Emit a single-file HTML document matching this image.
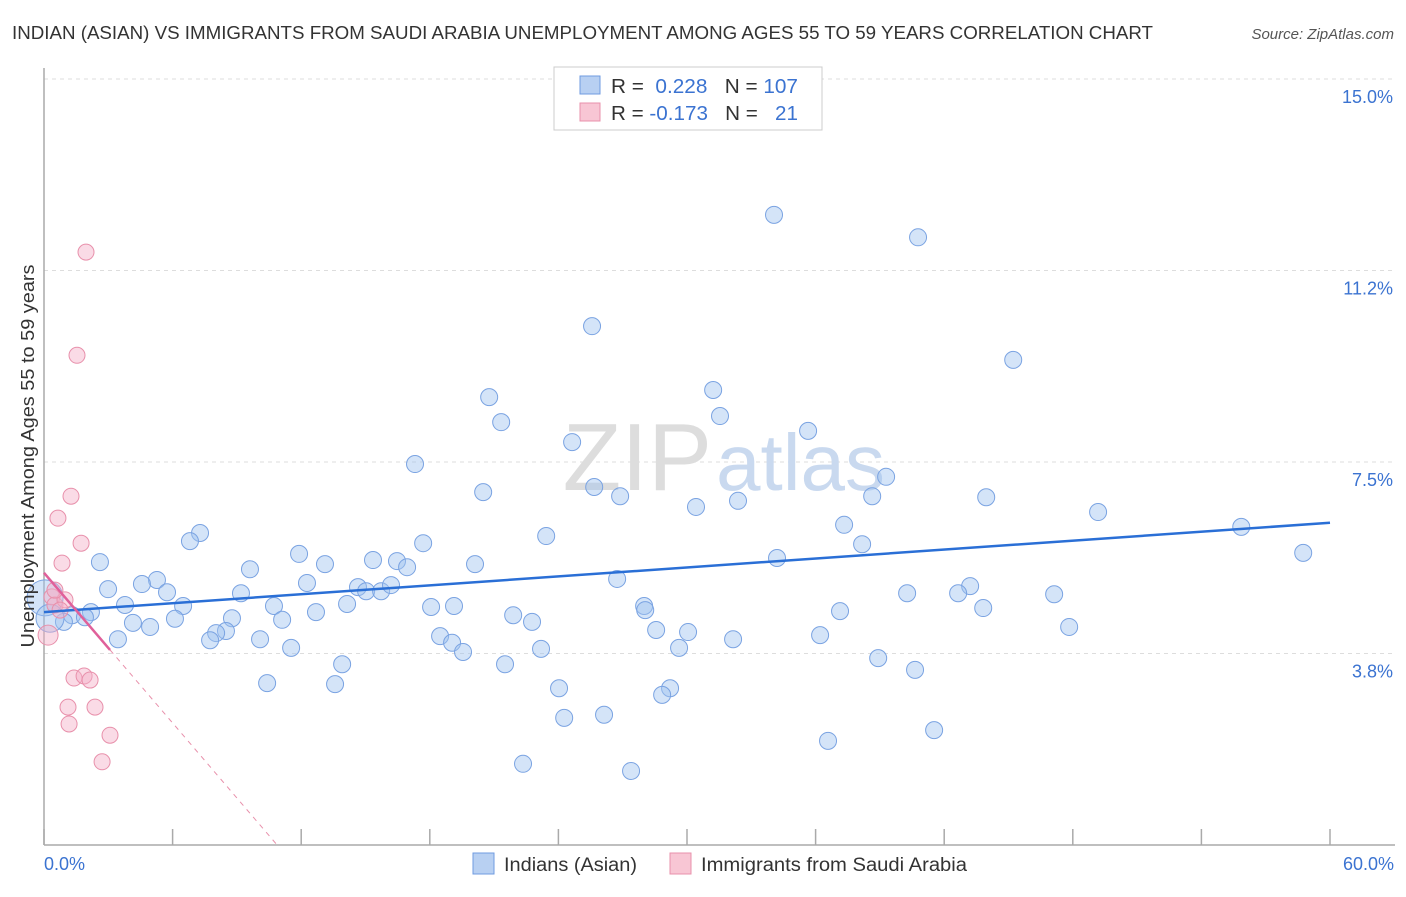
<!DOCTYPE html>
<html><head><meta charset="utf-8"><style>
body{margin:0;background:#fff;font-family:"Liberation Sans",sans-serif;}
svg text{font-family:"Liberation Sans",sans-serif;}
</style></head><body>
<svg id="chart" width="1406" height="892" viewBox="0 0 1406 892">
<text x="12" y="39" font-size="18" fill="#333" textLength="1141" lengthAdjust="spacingAndGlyphs">INDIAN (ASIAN) VS IMMIGRANTS FROM SAUDI ARABIA UNEMPLOYMENT AMONG AGES 55 TO 59 YEARS CORRELATION CHART</text>
<text x="1394" y="39" font-size="15" fill="#555" font-style="italic" text-anchor="end">Source: ZipAtlas.com</text>
<g id="grid"></g>
<text x="712" y="490" font-size="96" fill="#ddd" text-anchor="end" font-family="Liberation Serif">ZIP</text>
<text x="716" y="490" font-size="80" fill="#c9d9ef">atlas</text>
<g id="pts"></g>
<g id="lines"></g>
<text transform="translate(34,456) rotate(-90)" font-size="18" fill="#333" text-anchor="middle" textLength="383" lengthAdjust="spacingAndGlyphs">Unemployment Among Ages 55 to 59 years</text>
<text x="44" y="870" font-size="18" fill="#3b73d1">0.0%</text>
<text x="1394" y="870" font-size="18" fill="#3b73d1" text-anchor="end">60.0%</text>
<g>
<rect x="554" y="67" width="268" height="63" fill="#fff" stroke="#ccc"/>
<rect x="580" y="76" width="20" height="18" fill="#b8d0f2" stroke="#6f9be0"/>
<rect x="580" y="103" width="20" height="18" fill="#f8c6d4" stroke="#e890ab"/>
<text x="611" y="93" font-size="20" fill="#333" textLength="187" lengthAdjust="spacingAndGlyphs">R = <tspan fill="#3b73d1">&#160;0.228</tspan>&#160;&#160;&#160;N = <tspan fill="#3b73d1">107</tspan></text>
<text x="611" y="120" font-size="20" fill="#333" textLength="187" lengthAdjust="spacingAndGlyphs">R = <tspan fill="#3b73d1">-0.173</tspan>&#160;&#160;&#160;N = <tspan fill="#3b73d1">&#160;&#160;21</tspan></text>
</g>
<g>
<rect x="473" y="853" width="21" height="21" fill="#b8d0f2" stroke="#6f9be0"/>
<text x="504" y="871" font-size="19" fill="#333" textLength="133" lengthAdjust="spacingAndGlyphs">Indians (Asian)</text>
<rect x="670" y="853" width="21" height="21" fill="#f8c6d4" stroke="#e890ab"/>
<text x="701" y="871" font-size="19" fill="#333" textLength="266" lengthAdjust="spacingAndGlyphs">Immigrants from Saudi Arabia</text>
</g>
</svg>
<script>
const yTicks=[3.75,7.5,11.25,15];
const yTickLabels=["3.8%","7.5%","11.2%","15.0%"];
const xTicks=[0,6,12,18,24,30,36,42,48,54,60];
const blueX=[34.06,40.78,25.57,45.22,31.22,20.77,31.54,21.33,35.65,24.64,17.31,20.49,25.67,26.88,39.29,38.64,32.38,30.42,43.96,49.18,55.86,58.75,37.33,38.17,23.43,7.28,6.81,2.61,9.61,11.90,13.11,15.35,16.47,16.94,17.69,20.11,34.20,26.74,5.27,4.57,2.99,5.74,9.19,12.27,14.65,15.03,15.73,16.19,43.21,42.65,40.27,47.13,3.78,6.49,10.73,14.14,18.06,19.13,28.0,28.05,37.14,43.82,21.89,22.77,12.69,11.11,8.77,6.11,4.15,2.19,1.31,1.91,0.93,4.95,8.49,8.03,7.75,3.45,10.08,18.48,19.04,19.55,23.19,28.56,30.05,29.63,32.15,36.21,47.83,11.53,13.91,21.51,38.92,40.64,10.41,13.58,24.03,29.21,28.84,24.27,26.13,41.53,36.58,22.35,27.39,0.05,0.28];
const blueY=[12.34,11.90,10.16,9.50,8.91,8.77,8.40,8.28,8.11,7.89,7.46,6.91,7.01,6.83,7.21,6.83,6.74,6.62,6.81,6.52,6.23,5.72,6.27,5.89,6.05,6.11,5.95,5.54,5.40,5.70,5.50,5.58,5.56,5.44,5.91,5.50,5.62,5.21,5.19,5.11,5.01,4.95,4.93,5.13,5.05,4.97,4.97,5.09,5.07,4.93,4.93,4.91,4.70,4.68,4.68,4.72,4.66,4.68,4.68,4.60,4.58,4.64,4.50,4.37,4.56,4.41,4.44,4.43,4.35,4.56,4.50,4.46,4.37,4.27,4.19,4.15,4.01,4.03,4.03,4.09,3.96,3.78,3.84,4.21,4.17,3.86,4.03,4.11,4.27,3.86,3.54,3.54,3.66,3.43,3.17,3.15,3.07,3.07,2.94,2.49,2.55,2.25,2.04,1.59,1.45,4.84,4.44];
const pinkX=[1.96,1.54,1.26,0.65,1.73,0.84,0.37,0.51,0.98,0.75,0.19,1.40,1.87,2.15,1.12,2.38,1.17,3.08,2.71,0.51];
const pinkY=[11.61,9.59,6.83,6.40,5.91,5.52,4.86,4.70,4.80,4.60,4.11,3.27,3.31,3.23,2.70,2.70,2.37,2.15,1.63,4.99];
const blueTrend=[4.56,6.31];
const pinkTrend=[5.33,-0.49];
const X0=44,X1=1330,Y0=845,Y1=79;
const sx=v=>X0+(v/60)*(X1-X0);
const sy=v=>Y0-(v/15)*(Y0-Y1);
const NS="http://www.w3.org/2000/svg";
function mk(tag,attrs,parent){const e=document.createElementNS(NS,tag);for(const k in attrs)e.setAttribute(k,attrs[k]);parent.appendChild(e);return e;}
const grid=document.getElementById('grid');
yTicks.forEach((t,i)=>{
 const l=mk('line',{x1:X0,x2:1395,y1:sy(t),y2:sy(t),stroke:'#ddd','stroke-dasharray':'4,4'},grid);
 
 
 const tx=mk('text',{x:1393,y:sy(t)+24,'font-size':18,fill:'#3b73d1','text-anchor':'end'},grid);
 tx.textContent=yTickLabels[i];
 
 
});
const ax=mk('line',{x1:X0,x2:X0,y1:68,y2:Y0,stroke:'#aaa','stroke-width':1.5},grid);


const bx=mk('line',{x1:X0,x2:1395,y1:Y0,y2:Y0,stroke:'#aaa','stroke-width':1.5},grid);


xTicks.forEach(t=>{
 const l=mk('line',{x1:sx(t),x2:sx(t),y1:829,y2:Y0,stroke:'#aaa','stroke-width':1.5},grid);
 
 
});
const pts=document.getElementById('pts');
blueX.forEach((x,i)=>{
 const r=i>=blueX.length-2?(i==blueX.length-2?18:14):8.5;
 const c=mk('circle',{cx:sx(x),cy:sy(blueY[i]),r:r,fill:'rgba(160,195,240,0.45)',stroke:'#7aa3e2','stroke-width':1},pts);
 
 
});
pinkX.forEach((x,i)=>{
 const c=mk('circle',{cx:sx(x),cy:sy(pinkY[i]),r:i==10?10:8,fill:'rgba(245,175,200,0.45)',stroke:'#e890ab','stroke-width':1},pts);
 
 
});
const lines=document.getElementById('lines');
const bl=mk('line',{x1:sx(0),y1:sy(blueTrend[0]),x2:sx(60),y2:sy(blueTrend[1]),stroke:'#2a6fd6','stroke-width':2.5},lines);


const pf=x=>pinkTrend[0]+pinkTrend[1]*x;
const pl=mk('line',{x1:sx(0),y1:sy(pf(0)),x2:sx(3.08),y2:sy(pf(3.08)),stroke:'#e0609a','stroke-width':2.5},lines);


const xe=-pinkTrend[0]/pinkTrend[1];
const pd=mk('line',{x1:sx(3.08),y1:sy(pf(3.08)),x2:sx(xe),y2:sy(0),stroke:'#e890ab','stroke-width':1,'stroke-dasharray':'5,5'},lines);


</script>
</body></html>
